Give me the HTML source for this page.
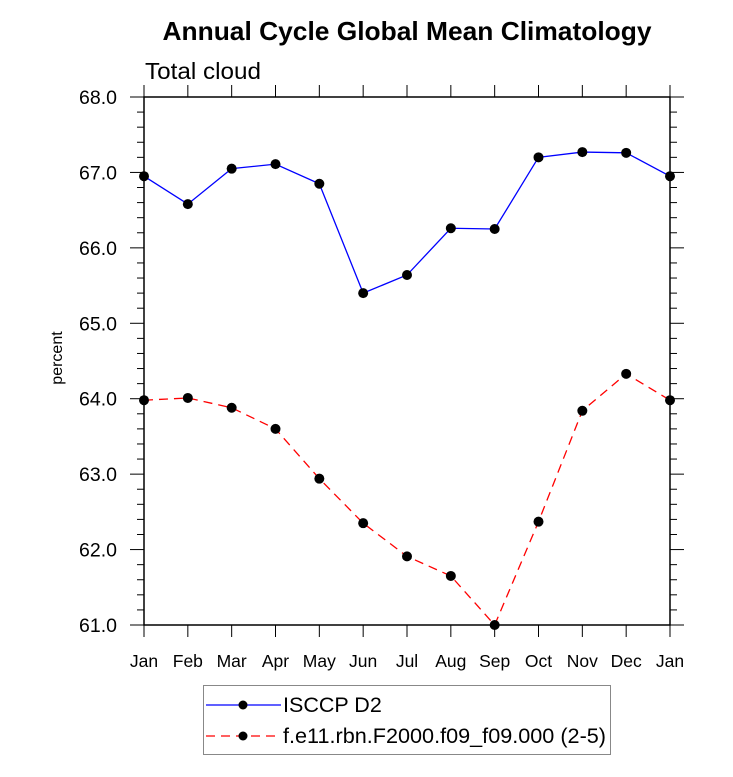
<!DOCTYPE html>
<html><head><meta charset="utf-8"><style>body{margin:0;background:#fff}svg{display:block;font-family:"Liberation Sans",sans-serif}</style></head>
<body>
<svg id="chart" width="733" height="777" xmlns="http://www.w3.org/2000/svg">
<text x="407" y="40" text-anchor="middle" font-size="26" font-weight="bold" textLength="489" lengthAdjust="spacingAndGlyphs">Annual Cycle Global Mean Climatology</text>
<text x="145" y="79" font-size="23" textLength="116" lengthAdjust="spacingAndGlyphs">Total cloud</text>
<text transform="translate(62,358) rotate(-90)" text-anchor="middle" font-size="16">percent</text>
<g id="axes"></g>
<g id="marks"></g>
<g>
<rect x="203.5" y="685.5" width="407" height="69" fill="none" stroke="#888" stroke-width="1"/>
<g>
<line x1="206" y1="705" x2="281" y2="705" stroke="#0000ff" stroke-width="1.3"/>
<circle cx="243" cy="705" r="4.5" fill="#000"/>
<text x="283" y="712" font-size="21.5">ISCCP D2</text></g>
<g>
<line x1="206" y1="736" x2="281" y2="736" stroke="#ff0000" stroke-width="1.3" stroke-dasharray="9,6"/>
<circle cx="243" cy="736" r="4.5" fill="#000"/>
<text x="283" y="743" font-size="21.5" textLength="323" lengthAdjust="spacingAndGlyphs">f.e11.rbn.F2000.f09_f09.000 (2-5)</text></g>
</g>
</svg>
<script>
const months = ["Jan","Feb","Mar","Apr","May","Jun","Jul","Aug","Sep","Oct","Nov","Dec","Jan"];
const isccp = [66.95,66.58,67.05,67.11,66.85,65.40,65.64,66.26,66.25,67.20,67.27,67.26,66.95];
const model = [63.98,64.01,63.88,63.60,62.94,62.35,61.91,61.65,61.00,62.37,63.84,64.33,63.98];
const yTicks = [61,62,63,64,65,66,67,68];
const L=144,R=670,T=97,B=625,Y0=61,Y1=68;
const NS="http://www.w3.org/2000/svg";
function xs(i){return L+i*(R-L)/(months.length-1);}
function ys(v){return B-(v-Y0)*(B-T)/(Y1-Y0);}
function mk(tag,attrs,parent){const e=document.createElementNS(NS,tag);for(const k in attrs)e.setAttribute(k,attrs[k]);parent.appendChild(e);return e;}
const ax=document.getElementById('axes');
const frame=mk('rect',{x:L,y:T,width:R-L,height:B-T,fill:'none',stroke:'#000','stroke-width':1.5},ax);


for(let v=Y0*5;v<=Y1*5;v++){const y=ys(v/5);const major=v%5===0;const len=major?14:7;
 mk('line',{x1:L-len,y1:y,x2:L,y2:y,stroke:'#000','stroke-width':1},ax);
 mk('line',{x1:R,y1:y,x2:R+len,y2:y,stroke:'#000','stroke-width':1},ax);}
yTicks.forEach(v=>{const t=mk('text',{x:117,y:ys(v)+7,'text-anchor':'end','font-size':19.5},ax);t.textContent=v.toFixed(1);
 
 });
months.forEach((m,i)=>{const x=xs(i);
 mk('line',{x1:x,y1:B,x2:x,y2:B+12,stroke:'#000','stroke-width':1},ax);
 mk('line',{x1:x,y1:T-12,x2:x,y2:T,stroke:'#000','stroke-width':1},ax);
 const t=mk('text',{x:x,y:B+42,'text-anchor':'middle','font-size':17.5},ax);t.textContent=m;
 
 });
const g=document.getElementById('marks');
function series(vals,color,dash,name){
 const p=mk('polyline',{points:vals.map((v,i)=>xs(i)+','+ys(v)).join(' '),fill:'none',stroke:color,'stroke-width':1.3,'stroke-dasharray':dash},g);
 
 
 vals.forEach((v,i)=>{const c=mk('circle',{cx:xs(i),cy:ys(v),r:5,fill:'#000'},g);
  
  });
}
series(isccp,'#0000ff','none','isccp');
series(model,'#ff0000','9,6','model');
</script>
</body></html>
